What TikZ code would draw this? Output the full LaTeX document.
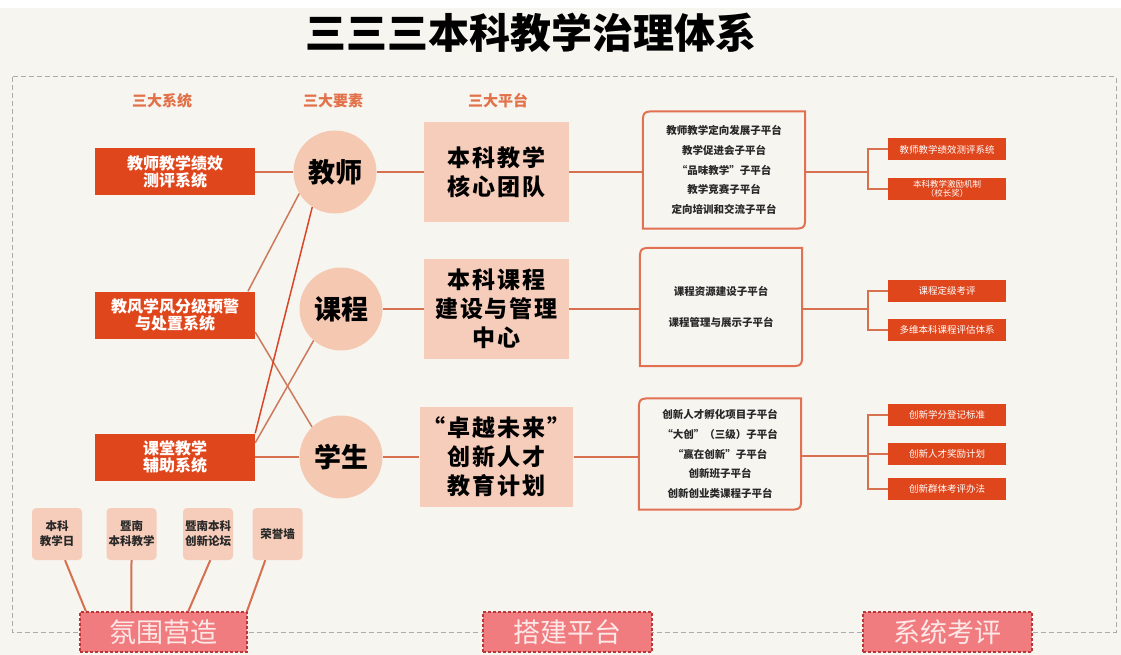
\documentclass[tikz,border=0pt]{standalone}
\usepackage{fontspec}
\setmainfont{Noto Sans CJK SC}
\usetikzlibrary{calc}
\definecolor{paper}{RGB}{246,245,240}
\definecolor{redbox}{RGB}{224,70,28}
\definecolor{peach}{RGB}{245,200,178}
\definecolor{peachbox}{RGB}{246,205,186}
\definecolor{linecol}{RGB}{214,112,78}
\definecolor{crosscol}{RGB}{205,122,92}
\definecolor{redline}{RGB}{216,70,40}
\definecolor{edgecol}{RGB}{226,112,82}
\definecolor{headcol}{RGB}{226,112,72}
\definecolor{darktext}{RGB}{40,40,40}
\definecolor{framecol}{RGB}{170,170,170}
\definecolor{bannerfill}{RGB}{240,124,128}
\definecolor{bannerline}{RGB}{185,55,55}
\definecolor{bannertext}{RGB}{253,232,232}

\begin{document}
\begin{tikzpicture}[x=1pt, y=-1pt,
    system/.style ={rectangle, fill=redbox, text=white, minimum width=160pt, minimum height=47pt, align=center, font=\fontsize{16}{17}\selectfont\bfseries},
    element/.style ={circle, fill=peach, minimum size=83pt, inner sep=0pt, font=\fontsize{27}{28}\selectfont\bfseries},
    platform/.style ={rectangle, fill=peachbox, minimum width=145pt, minimum height=100pt, align=center, font=\fontsize{23}{29}\selectfont\bfseries\addfontfeature{LetterSpace=8}},
    subplatform/.style ={rectangle, minimum width=162pt, align=center, text=darktext, font=\fontsize{10.5}{19.7}\selectfont\bfseries},
    subedge/.style ={draw=edgecol, line width=2pt},
    measure/.style ={rectangle, fill=redbox, text=white, minimum width=118pt, minimum height=22pt, inner sep=0pt, align=center, font=\fontsize{9.5}{10}\selectfont},
    activity/.style ={rectangle, rounded corners=4pt, fill=peachbox, minimum width=50pt, minimum height=52pt, inner sep=0pt, align=center, text=darktext, font=\fontsize{11.5}{15}\selectfont\bfseries},
    banner/.style ={rectangle, fill=bannerfill, draw=bannerline, densely dashed, line width=1.6pt, minimum height=40pt, text=bannertext, font=\fontsize{27}{28}\selectfont},
    heading/.style ={text=headcol, font=\fontsize{15}{16}\selectfont\bfseries},
    link/.style ={draw=linecol, line width=2pt},
    cross/.style ={draw=crosscol, line width=1.5pt}]

   \fill[paper] (0,0) rectangle (1121,655);
   \fill[white] (0,0) rectangle (1121,8);
   \useasboundingbox (0,0) rectangle (1121,655);
   \draw[framecol, line width=1pt, dash pattern=on 5pt off 3pt] (12,77) rectangle (1116,632);

   \node[font=\fontsize{41}{44}\selectfont\bfseries] (title) at (531,33) {三三三本科教学治理体系};

   \node[heading] (h1) at (162,101) {三大系统};
   \node[heading] (h2) at (333,101) {三大要素};
   \node[heading] (h3) at (498,101) {三大平台};

   \node[system] (sys1) at (175,172) {教师教学绩效\\测评系统};
   \node[system] (sys2) at (175,315) {教风学风分级预警\\与处置系统};
   \node[system] (sys3) at (175,457) {课堂教学\\辅助系统};

   \node[element] (teacher) at (335,172) {教师};
   \node[element] (course)  at (341,309) {课程};
   \node[element] (student) at (341,457) {学生};

   \node[platform] (plat1) at (496.5,172) {本科教学\\核心团队};
   \node[platform] (plat2) at (496.5,309) {本科课程\\建设与管理\\中心};
   \node[platform] (plat3) at (496.5,457) {“卓越未来”\\创新人才\\教育计划};

   \node[subplatform, minimum height=117pt] (sub1) at (724,170) {教师教学定向发展子平台\\教学促进会子平台\\“品味教学”子平台\\教学竞赛子平台\\定向培训和交流子平台};
   \node[subplatform, minimum height=118pt] (sub2) at (721,307) {课程资源建设子平台\\[11.3pt]课程管理与展示子平台};
   \node[subplatform, minimum height=111pt] (sub3) at (720,454) {创新人才孵化项目子平台\\“大创”（三级）子平台\\“赢在创新”子平台\\创新班子平台\\创新创业类课程子平台};

   \draw[subedge] (sub1.north east) -- ($(sub1.south east)+(0,-15)$) .. controls (sub1.south east) .. ($(sub1.south east)+(-15,0)$) -- (sub1.south west) -- ($(sub1.north west)+(0,15)$) .. controls (sub1.north west) .. ($(sub1.north west)+(15,0)$) -- cycle;
   \draw[subedge] (sub2.north east) -- ($(sub2.south east)+(0,-15)$) .. controls (sub2.south east) .. ($(sub2.south east)+(-15,0)$) -- (sub2.south west) -- ($(sub2.north west)+(0,15)$) .. controls (sub2.north west) .. ($(sub2.north west)+(15,0)$) -- cycle;
   \draw[subedge] (sub3.north east) -- ($(sub3.south east)+(0,-15)$) .. controls (sub3.south east) .. ($(sub3.south east)+(-15,0)$) -- (sub3.south west) -- ($(sub3.north west)+(0,15)$) .. controls (sub3.north west) .. ($(sub3.north west)+(15,0)$) -- cycle;

   \node[measure] (m1) at (947,149.5) {教师教学绩效测评系统};
   \node[measure, font=\fontsize{8.5}{9.5}\selectfont] (m2) at (947,189) {本科教学激励机制\\（校长奖）};
   \node[measure] (m3) at (947,291) {课程定级考评};
   \node[measure] (m4) at (947,330) {多维本科课程评估体系};
   \node[measure] (m5) at (947,415) {创新学分登记标准};
   \node[measure] (m6) at (947,453.5) {创新人才奖励计划};
   \node[measure] (m7) at (947,489) {创新群体考评办法};

   \coordinate (j1) at (868,172);
   \coordinate (j2) at (868,309);
   \coordinate (j3) at (868,456);

   \node[activity] (k1) at (57,534) {本科\\教学日};
   \node[activity] (k2) at (131.5,534) {暨南\\本科教学};
   \node[activity] (k3) at (208,534) {暨南本科\\创新论坛};
   \node[activity] (k4) at (277.5,534) {荣誉墙};

   \node[banner, minimum width=167pt] (mood)   at (163.5,632) {氛围营造};
   \node[banner, minimum width=169pt] (build)  at (567.5,632) {搭建平台};
   \node[banner, minimum width=169pt] (review) at (947.5,632) {系统考评};

   \draw[link] (sys1) to (teacher);
   \draw[cross] (sys2.18.6) to (teacher.211);
   \draw[cross] (sys2.-12.3) to (student.134);
   \draw[cross, draw=redline] (sys3.north east) to (teacher.237);
   \draw[cross] (sys3.10.3) to (course.229);
   \draw[link] (sys3) to (student);

   \draw[link] (teacher) to (plat1);
   \draw[link] (course) to (plat2);
   \draw[link] (student) to (plat3);

   \draw[link] (plat1) to (plat1 -| sub1.west);
   \draw[link] (plat2) to (plat2 -| sub2.west);
   \draw[link] (plat3) to (plat3 -| sub3.west);

   \draw[link] (j1 -| sub1.east) to (j1);
   \draw[link] (j2 -| sub2.east) to (j2);
   \draw[link] (j3 -| sub3.east) to (j3);
   \draw[link] (m1.west) -| (j1) |- (m2.west);
   \draw[link] (m3.west) -| (j2) |- (m4.west);
   \draw[link] (m5.west) -| (j3) |- (m7.west);
   \draw[link] (m6.west) to (m6.west -| j3);

   \draw[link] (k1.-73) to (mood.165.3);
   \draw[link] (k2.south) to (mood.147.6);
   \draw[link] (k3.-85.6) to (mood.40.4);
   \draw[link] (k4.-115.7) to (mood.14.1);

 \end{tikzpicture}
\end{document}
